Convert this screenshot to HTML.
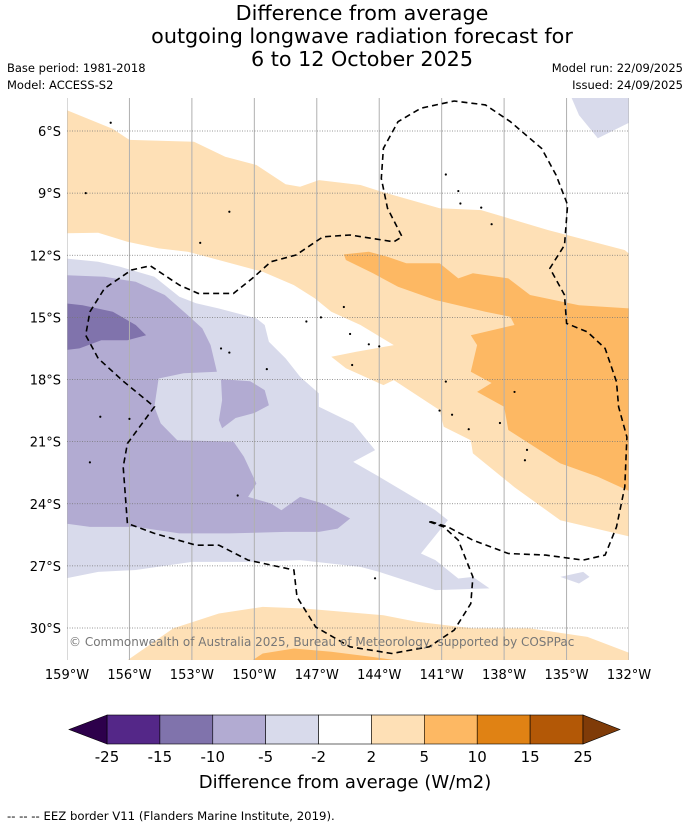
<!DOCTYPE html>
<html><head><meta charset="utf-8">
<style>
html,body{margin:0;padding:0;background:#fff;}
body{width:690px;height:827px;overflow:hidden;font-family:"DejaVu Sans","Liberation Sans",sans-serif;}
svg text{font-family:"DejaVu Sans","Liberation Sans",sans-serif;}
</style></head>
<body>
<svg id="chart" width="690" height="827" viewBox="0 0 690 827" xmlns="http://www.w3.org/2000/svg">
<g font-size="20.7" text-anchor="middle" fill="#000">
<text x="362" y="20">Difference from average</text>
<text x="362" y="43">outgoing longwave radiation forecast for</text>
<text x="362" y="66">6 to 12 October 2025</text>
</g>
<text x="7" y="72" font-size="11.5">Base period: 1981-2018</text>
<text x="7" y="89" font-size="11.5">Model: ACCESS-S2</text>
<text x="683" y="72" font-size="11.5" text-anchor="end">Model run: 22/09/2025</text>
<text x="683" y="89" font-size="11.5" text-anchor="end">Issued: 24/09/2025</text>
<defs><clipPath id="mapclip"><rect x="67" y="98" width="562" height="562"/></clipPath></defs>
<g id="map" clip-path="url(#mapclip)"></g>
<g id="axes"></g>
<g id="cbar"></g>
<text x="345" y="788" font-size="18" text-anchor="middle">Difference from average (W/m2)</text>
<text x="7" y="820" font-size="11.7">--  --  -- EEZ border V11 (Flanders Marine Institute, 2019).</text>
</svg>
<script>
// ---- data (lon in degrees West, lat in degrees South) ----
const lonTicks = [159,156,153,150,147,144,141,138,135,132];
const latTicks = [6,9,12,15,18,21,24,27,30];
const levels = [-25,-15,-10,-5,-2,2,5,10,15,25];
const levelColors = ["#542788","#8073ac","#b2abd2","#d8daeb","#ffffff","#fee0b6","#fdb863","#e08214","#b35806"];
const extendColors = ["#2d004b","#7f3b08"];
const lightOrangeNorth = [[159,5.0],[156.8,5.9],[156,6.43],[152.9,6.52],[151.4,7.24],[149.9,7.64],[148.5,8.57],[147.8,8.69],[146.9,8.37],[144.9,8.61],[143.8,8.96],[141.1,9.73],[139.1,9.82],[135.9,10.78],[132.2,11.75],[131.9,12],[131.9,25.6],[135.3,24.8],[137.5,23.2],[139.5,21.57],[139.6,20.93],[140.9,20.28],[141.1,19.48],[143.3,18.03],[143.8,18.27],[145.6,17.46],[146.3,16.9],[145.1,16.66],[143.3,16.34],[144.9,15.37],[146.3,14.73],[147.1,14.08],[148.1,13.44],[149.6,12.8],[151.4,12.31],[153.2,11.83],[154.6,11.67],[156.1,11.35],[157.5,10.91],[159.1,10.94]];
const orangeNorth = [[145.7,11.96],[144.5,11.83],[143.6,12.07],[142.7,12.39],[141.1,12.39],[140.2,13.12],[139.5,12.87],[137.8,13.12],[136.75,13.92],[134.4,14.41],[131.9,14.57],[131.9,23.43],[133.5,22.7],[135.3,22.05],[137.8,20.44],[138.0,19.32],[139.3,18.6],[138.6,18.17],[139.6,17.63],[139.3,16.34],[139.6,15.86],[137.5,15.37],[137.7,14.97],[138.9,14.73],[141.3,14.16],[143.1,13.52],[144.3,12.87],[145.6,12.23]];
const lavenderLight = [[159.1,12.15],[157.5,12.31],[156.45,12.56],[154.8,13.04],[153.6,14.0],[152.8,14.32],[151.7,14.57],[149.9,15.05],[149.5,15.37],[149.3,16.18],[148.5,16.98],[147.8,17.87],[146.9,18.67],[146.9,19.32],[145.25,20.12],[144.2,21.41],[145.25,21.98],[144.0,22.7],[141.3,24.31],[140.7,24.79],[142.0,26.4],[141.3,26.72],[140.2,27.61],[139.5,27.53],[138.7,28.09],[141.3,28.17],[144.0,27.29],[144.9,27.05],[147.8,26.72],[150.3,26.81],[153.0,26.81],[155.7,27.2],[157.5,27.29],[159.1,27.61]];
const lavenderNE = [[134.8,4.3],[134.4,5.23],[133.5,6.35],[131.9,5.55],[131.9,4.3]];
const lavenderSmall = [[135.3,27.53],[134.2,27.29],[133.9,27.53],[134.4,27.85]];
const lavenderMid = [[159.1,12.96],[157.2,13.04],[155.7,13.28],[154.3,13.92],[153.2,14.89],[152.5,15.53],[152.1,16.34],[151.8,17.63],[153.4,17.7],[154.6,17.95],[154.8,19.32],[154.5,20.12],[153.7,20.93],[151.0,21.0],[150.5,21.73],[149.9,23.02],[150.3,23.67],[149.2,23.99],[148.7,24.31],[147.8,23.67],[146.7,23.99],[145.4,24.71],[146.0,25.2],[146.9,25.36],[148.5,25.36],[151.2,25.43],[153.6,25.43],[155.7,25.12],[157.9,25.12],[159.1,24.95]];
const lavenderMidBlob = [[151.6,17.98],[150.2,18.08],[149.5,18.51],[149.3,19.24],[150.0,19.62],[150.9,19.86],[151.55,20.35],[151.7,19.96],[151.55,19.0]];
const purpleDark = [[159.1,14.32],[158.25,14.41],[156.8,14.73],[155.7,15.37],[155.2,15.86],[156.1,16.1],[157.35,16.1],[158.4,16.5],[159.1,16.58]];
const lightOrangeSouth = [[156.3,31.7],[153.9,30.02],[151.7,29.3],[149.6,28.98],[147.6,29.06],[143.8,29.38],[142.2,29.7],[139.5,30.02],[136.75,30.02],[134.0,30.43],[131.9,31.23],[131.9,31.7]];
const orangeSouth = [[150.3,31.7],[149.6,31.23],[148.1,30.99],[146.3,31.15],[144.3,31.4],[142.2,31.7]];
const eezBorder = [[141.6,24.87],[140.9,25.12],[140.2,25.76],[139.5,27.53],[139.6,28.82],[140.4,30.1],[141.6,30.91],[143.4,31.23],[145.4,30.91],[147.05,29.95],[147.95,28.5],[148.1,27.2],[150.3,26.72],[151.7,26.0],[152.8,26.0],[154.8,25.43],[156.1,24.95],[156.3,22.22],[156.1,21.09],[154.8,19.32],[156.3,18.08],[157.5,16.98],[158.1,15.86],[157.9,14.73],[157.2,13.6],[155.9,12.71],[155.0,12.51],[153.6,13.44],[152.7,13.84],[151.0,13.84],[150.1,13.12],[149.2,12.31],[148.0,11.99],[146.7,11.11],[145.4,11.02],[143.3,11.35],[142.9,11.11],[143.6,9.73],[143.9,8.29],[143.8,6.84],[143.1,5.55],[142.0,4.9],[140.4,4.55],[138.9,4.74],[137.7,5.55],[136.2,6.84],[135.5,8.13],[134.95,9.57],[135.1,11.51],[135.8,12.63],[135.1,13.92],[135.0,15.29],[134.0,15.7],[133.15,16.5],[132.6,18.11],[132.5,19.32],[132.1,20.78],[132.2,23.18],[132.6,25.12],[133.15,26.48],[134.2,26.72],[136.0,26.48],[137.8,26.4],[139.5,25.76],[140.7,25.12],[141.5,24.87]];
const islands = [[156.9,5.6],[158.1,9.0],[151.2,9.9],[152.6,11.4],[140.8,8.1],[140.2,8.9],[140.1,9.5],[139.1,9.7],[138.6,10.5],[145.7,14.5],[146.8,15.0],[147.5,15.2],[145.4,15.8],[144.5,16.3],[144.0,16.4],[151.6,16.5],[151.2,16.7],[149.4,17.5],[145.3,17.3],[140.8,18.1],[141.1,19.5],[140.5,19.7],[137.5,18.6],[138.2,20.1],[136.9,21.4],[137.0,21.9],[139.7,20.4],[157.4,19.8],[156.0,19.9],[157.9,22.0],[150.8,23.6],[144.2,27.6]];

// ---- scales ----
const X0 = 67, X1 = 629, Y0 = 131, Y1 = 628;
function xs(lonW){ return X0 + (159 - lonW) * (X1 - X0) / 27; }
function ys(latS){ return Y0 + (latS - 6) * (Y1 - Y0) / 24; }
const NS = "http://www.w3.org/2000/svg";
function mk(tag, attrs, parent){
  const e = document.createElementNS(NS, tag);
  for (const k in attrs) e.setAttribute(k, attrs[k]);
  parent.appendChild(e); return e;
}
function pts(arr){ return arr.map(p => xs(p[0]).toFixed(1) + "," + ys(p[1]).toFixed(1)).join(" "); }

const map = document.getElementById("map");
const regions = [
  [lightOrangeNorth, levelColors[5], "light-orange-region-north"],
  [orangeNorth, levelColors[6], "orange-region-north"],
  [lavenderLight, levelColors[3], "light-lavender-region"],
  [lavenderNE, levelColors[3], "light-lavender-region-northeast"],
  [lavenderSmall, levelColors[3], "light-lavender-patch"],
  [lavenderMid, levelColors[2], "mid-lavender-region"],
  [lavenderMidBlob, levelColors[2], "mid-lavender-patch"],
  [purpleDark, levelColors[1], "dark-purple-region"],
  [lightOrangeSouth, levelColors[5], "light-orange-region-south"],
  [orangeSouth, levelColors[6], "orange-region-south"]
];
regions.forEach(r => {
  const p = mk("polygon", {points: pts(r[0]), fill: r[1], stroke: "none"}, map);
  
  
});
lonTicks.forEach(l => {
  const g = mk("line", {x1: xs(l), x2: xs(l), y1: 98, y2: 660, stroke: "#b0b0b0", "stroke-width": 1}, map);
  
  
});
latTicks.forEach(l => {
  const g = mk("line", {x1: 67, x2: 629, y1: ys(l), y2: ys(l), stroke: "#777", "stroke-width": 0.8, "stroke-dasharray": "1,1.5"}, map);
  
  
});
islands.forEach(p => {
  const c = mk("circle", {cx: xs(p[0]), cy: ys(p[1]), r: 1.1, fill: "#000"}, map);
  
  
});
const eez = mk("polygon", {points: pts(eezBorder), fill: "none", stroke: "#000", "stroke-width": 1.6, "stroke-dasharray": "6,4"}, map);


const cr = mk("text", {x: 69, y: 646, "font-size": 12, fill: "#777"}, map);
cr.textContent = "\u00A9 Commonwealth of Australia 2025, Bureau of Meteorology, supported by COSPPac";



const axes = document.getElementById("axes");
latTicks.forEach(l => {
  const t = mk("text", {x: 61, y: ys(l) + 5, "font-size": 13, "text-anchor": "end"}, axes);
  t.textContent = l + "\u00B0S";
  
  
});
lonTicks.forEach(l => {
  const t = mk("text", {x: xs(l), y: 679, "font-size": 13, "text-anchor": "middle"}, axes);
  t.textContent = l + "\u00B0W";
  
  
});

const cb = document.getElementById("cbar");
const CB0 = 107, CB1 = 583, CBT = 715, CBB = 744, CBM = (CBT + CBB) / 2;
const binW = (CB1 - CB0) / levelColors.length;
levelColors.forEach((c, i) => {
  const r = mk("rect", {x: CB0 + i * binW, y: CBT, width: binW, height: CBB - CBT, fill: c, stroke: "#000", "stroke-width": 0.6}, cb);
  
  
});
const tl = mk("polygon", {points: `${CB0},${CBT} ${CB0},${CBB} 69,${CBM}`, fill: extendColors[0], stroke: "#000", "stroke-width": 0.6}, cb);


const tr = mk("polygon", {points: `${CB1},${CBT} ${CB1},${CBB} 620,${CBM}`, fill: extendColors[1], stroke: "#000", "stroke-width": 0.6}, cb);


levels.forEach((v, i) => {
  const t = mk("text", {x: CB0 + i * binW, y: 762, "font-size": 15, "text-anchor": "middle"}, cb);
  t.textContent = v;
  
  
});
</script>
</body></html>
